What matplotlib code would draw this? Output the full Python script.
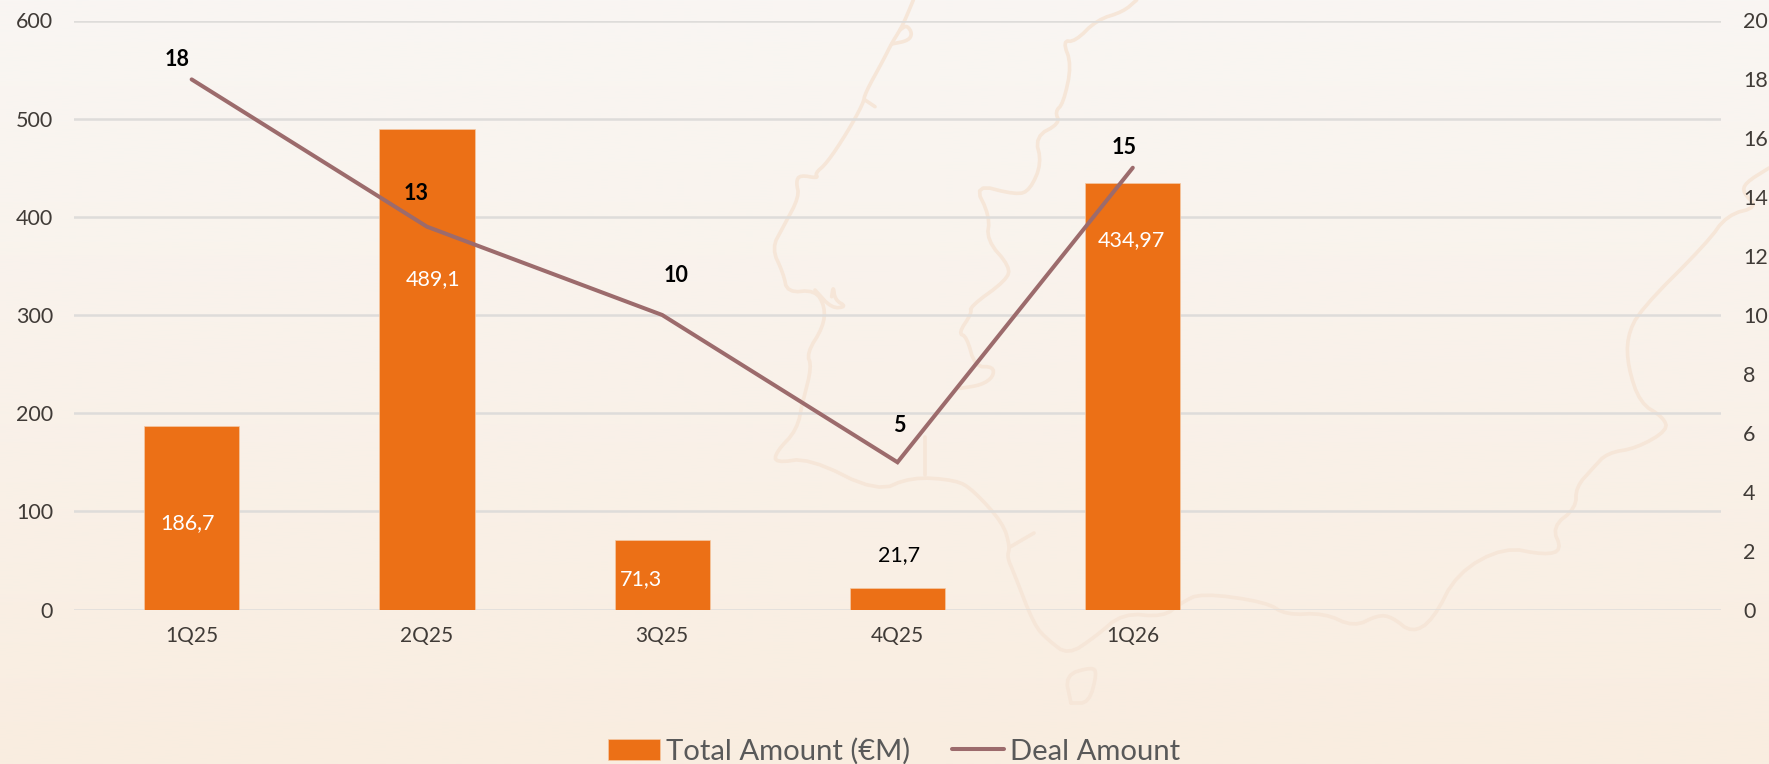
import matplotlib
matplotlib.use("Agg")
import matplotlib.pyplot as plt
import numpy as np

W, H = 1769, 764

categories = ["1Q25", "2Q25", "3Q25", "4Q25", "1Q26"]
total_amount = [186.7, 489.1, 71.3, 21.7, 434.97]
deal_amount = [18, 13, 10, 5, 15]
total_labels = ["186,7", "489,1", "71,3", "21,7", "434,97"]
deal_labels = ["18", "13", "10", "5", "15"]

left_ticks = [0, 100, 200, 300, 400, 500, 600]
right_ticks = [0, 2, 4, 6, 8, 10, 12, 14, 16, 18, 20]

# label offsets from the mark, in pixels
total_offsets = [(-4, -97), (6, -150), (-21, -40), (2, 33), (-1, -58)]
deal_offsets = [(-15, 20), (-11, 33), (14, 39), (2, 37), (-9, 20)]

# faint map behind the chart, figure pixels (zoom crops, 3x)
coast_west = [(640, 0), (615, 60), (600, 90), (575, 130), (550, 180), (495, 280), (490, 310),
              (440, 400), (380, 490), (345, 520), (355, 535), (300, 525), (288, 545), (298, 590),
              (250, 680), (215, 745), (250, 820), (262, 878), (345, 870), (375, 920), (370, 980),
              (320, 1060), (335, 1100), (310, 1200)]
coast_loop = [(600, 90), (620, 75), (637, 100), (625, 122), (575, 132)]
coast_spur = [(495, 300), (525, 320)]
inlet = [(345, 870), (395, 925), (440, 920), (405, 900), (400, 858), (395, 890)]
coast_east = [(1310, 0), (1270, 35), (1190, 60), (1125, 125), (1088, 122), (1115, 195), (1090, 310),
              (1065, 335), (1080, 370), (1005, 410), (1025, 490), (990, 570), (950, 585), (822, 552),
              (870, 650), (860, 720), (930, 800), (920, 840), (810, 920), (815, 940), (775, 1000),
              (800, 1010), (825, 1100), (880, 1100), (880, 1130), (845, 1155), (780, 1165)]
# these are in full figure pixels already
coast_lower = [(803, 400), (797, 430), (776, 452), (775, 463), (809, 458), (877, 492), (911, 477),
               (956, 480), (973, 490), (1003, 523), (1010, 547), (1007, 557), (1014, 573),
               (1034, 625), (1048, 640), (1068, 655), (1095, 637), (1123, 613), (1163, 617),
               (1181, 603), (1201, 593), (1266, 602), (1286, 615), (1324, 613), (1354, 627),
               (1378, 615), (1392, 617), (1412, 633), (1433, 620), (1457, 573), (1504, 547),
               (1545, 555), (1562, 550), (1552, 527), (1576, 508), (1576, 487), (1593, 468),
               (1607, 453), (1637, 448), (1668, 430), (1663, 417), (1640, 403), (1628, 367),
               (1627, 337), (1640, 310), (1707, 243), (1727, 215), (1758, 207), (1743, 193),
               (1745, 183), (1769, 168)]
island = [(1071, 703), (1065, 675), (1092, 667), (1097, 673), (1089, 703), (1071, 703)]
border = [(925, 437), (925, 475)]
stroke = [(1010, 547), (1034, 533)]


def crop(points):
    return [(700 + x / 3, y / 3) for x, y in points]


def chaikin(points, rounds=2):
    pts = np.array(points, dtype=float)
    for _ in range(rounds):
        a, b = pts[:-1], pts[1:]
        mid = np.empty((len(a) * 2, 2))
        mid[0::2] = 0.75 * a + 0.25 * b
        mid[1::2] = 0.25 * a + 0.75 * b
        pts = np.vstack([pts[:1], mid, pts[-1:]])
    return pts


plt.rcParams["font.family"] = ["Lato", "DejaVu Sans"]

fig = plt.figure(figsize=(W / 100, H / 100), dpi=100)

# gradient and map
bg = fig.add_axes([0, 0, 1, 1], zorder=0)
grad = np.linspace(0, 1, 256)[:, None, None]
top = np.array([249, 246, 243]) / 255
bottom = np.array([249, 237, 224]) / 255
bg.imshow(top + (bottom - top) * grad, extent=[0, W, H, 0], aspect="auto")
west_parts = [crop(coast_west), crop(coast_loop), crop(coast_spur), crop(inlet), crop(coast_east)]
other_parts = [coast_lower, island, border, stroke]
for part in west_parts + other_parts:
    p = chaikin(part)
    bg.plot(p[:, 0], p[:, 1], color="#F6E6D8", lw=2.6, solid_capstyle="round", solid_joinstyle="round")
bg.set_xlim(0, W)
bg.set_ylim(H, 0)
bg.axis("off")

# chart, 7 slots of which only 5 are filled
ax = fig.add_axes([74 / W, 1 - 609.5 / H, (1721 - 74) / W, 589 / H], zorder=1)
ax.patch.set_alpha(0)
x = np.arange(len(categories))
bars = ax.bar(x, total_amount, width=0.405, color="#EC7016", edgecolor="#F4C9A5", linewidth=0.5,
              label="Total Amount (€M)", zorder=3)
ax.set_xlim(-0.5, 6.5)
ax.set_ylim(0, 600)
ax.set_yticks(left_ticks)
ax.set_xticks(x, categories)
ax.grid(axis="y", color="#DEDCDA", lw=1.8, zorder=1)
ax.set_axisbelow(True)
ax.tick_params(length=0, labelsize=15.5, labelcolor="#403B37")
ax.tick_params(axis="x", pad=12, labelsize=15)
ax.tick_params(axis="y", pad=15)
for s in ax.spines.values():
    s.set_visible(False)

ax2 = ax.twinx()
ax2.patch.set_alpha(0)
line, = ax2.plot(x, deal_amount, color="#9C6B6C", lw=2.9, solid_capstyle="round",
                 solid_joinstyle="miter", label="Deal Amount", zorder=4)
ax2.set_ylim(0, 20)
ax2.set_yticks(right_ticks)
ax2.tick_params(length=0, labelsize=15.5, labelcolor="#403B37", pad=16)
for s in ax2.spines.values():
    s.set_visible(False)

for i, (val, lab, off) in enumerate(zip(total_amount, total_labels, total_offsets)):
    color = "black" if lab == "21,7" else "white"
    ax.annotate(lab, (i, val), xytext=off, textcoords="offset pixels", ha="center", va="center",
                fontsize=15.5, color=color, zorder=6, annotation_clip=False)
for i, (val, lab, off) in enumerate(zip(deal_amount, deal_labels, deal_offsets)):
    ax2.annotate(lab, (i, val), xytext=off, textcoords="offset pixels", ha="center", va="center",
                 fontsize=15.5, fontweight="bold", color="black", zorder=6)

fig.legend([bars, line], ["Total Amount (€M)", "Deal Amount"], loc="center",
           bbox_to_anchor=(894 / W, 1 - 751.5 / H), ncol=2, frameon=False, fontsize=21.1,
           labelcolor="#595959", handlelength=1.78, handleheight=0.75, handletextpad=0.2,
           columnspacing=1.45, borderpad=0)

fig.savefig("out.png", dpi=100)
